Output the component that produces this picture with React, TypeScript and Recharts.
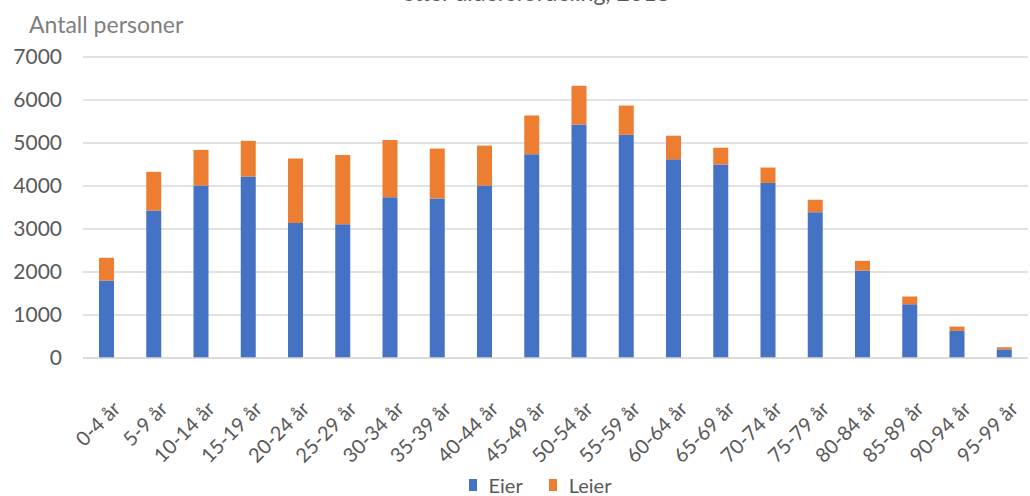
import { BarChart, Bar, XAxis, YAxis, CartesianGrid, Legend } from "recharts";

const ageGroups = [
  "0-4 år", "5-9 år", "10-14 år", "15-19 år", "20-24 år",
  "25-29 år", "30-34 år", "35-39 år", "40-44 år", "45-49 år",
  "50-54 år", "55-59 år", "60-64 år", "65-69 år", "70-74 år",
  "75-79 år", "80-84 år", "85-89 år", "90-94 år", "95-99 år",
];

const eier = [
  1800, 3430, 4010, 4220, 3140, 3110, 3740, 3710, 4010, 4740,
  5430, 5190, 4620, 4500, 4070, 3390, 2030, 1250, 630, 200,
];

const leier = [
  530, 900, 830, 830, 1500, 1610, 1330, 1160, 930, 900,
  900, 680, 550, 390, 360, 290, 230, 180, 100, 50,
];

const yTicks = [0, 1000, 2000, 3000, 4000, 5000, 6000, 7000];

const BLUE = "#4472C4";
const ORANGE = "#ED7D31";
const TEXT = "#595959";
const FONT = "Lato, 'Open Sans', sans-serif";

const data = ageGroups.map((group, i) => ({
  group,
  eier: eier[i],
  leier: leier[i],
}));

function LegendContent() {
  const items = [
    { label: "Eier", color: BLUE },
    { label: "Leier", color: ORANGE },
  ];
  return (
    <div style={{ display: "flex", justifyContent: "center", gap: 26, fontFamily: FONT, fontSize: 20, color: TEXT, lineHeight: "20px" }}>
      {items.map((it) => (
        <div key={it.label} style={{ display: "flex", alignItems: "center", gap: 12 }}>
          <span style={{ width: 8, height: 12, background: it.color, display: "inline-block" }} />
          <span>{it.label}</span>
        </div>
      ))}
    </div>
  );
}

export default function App() {
  return (
    <div style={{ position: "absolute", left: 0, top: 0, width: 1030, height: 496, overflow: "hidden", background: "#fff" }}>
      <div
        style={{
          position: "absolute",
          top: -22,
          left: 0,
          width: 1072,
          textAlign: "center",
          fontFamily: FONT,
          fontSize: 23,
          color: TEXT,
        }}
      >
        etter aldersfordeling, 2018
      </div>
      <div
        style={{
          position: "absolute",
          top: 10,
          left: 29,
          fontFamily: FONT,
          fontSize: 23,
          color: "#7f7f7f",
        }}
      >
        Antall personer
      </div>
      <BarChart
        width={1030}
        height={496}
        data={data}
        margin={{ top: 57, right: 2, left: 0, bottom: 0 }}
        barSize={15}
      >
        <CartesianGrid vertical={false} stroke="#d9d9d9" strokeWidth={1.5} />
        <XAxis
          dataKey="group"
          interval={0}
          height={108}
          axisLine={{ stroke: "#d9d9d9", strokeWidth: 1.5 }}
          tickLine={false}
          tickSize={0}
          tickMargin={42}
          angle={-45}
          textAnchor="end"
          tick={{ fill: TEXT, fontSize: 20, fontFamily: FONT, dx: 5 }}
        />
        <YAxis
          width={83}
          domain={[0, 7000]}
          ticks={yTicks}
          axisLine={false}
          tickLine={false}
          tickSize={0}
          tickMargin={21}
          tick={{ fill: TEXT, fontSize: 21, fontFamily: FONT }}
        />
        <Legend
          verticalAlign="bottom"
          content={<LegendContent />}
          wrapperStyle={{ left: 45, width: 990, height: 30, paddingTop: 9, boxSizing: "border-box" }}
        />
        <Bar dataKey="eier" name="Eier" stackId="a" fill={BLUE} isAnimationActive={false} />
        <Bar dataKey="leier" name="Leier" stackId="a" fill={ORANGE} isAnimationActive={false} />
      </BarChart>
    </div>
  );
}
